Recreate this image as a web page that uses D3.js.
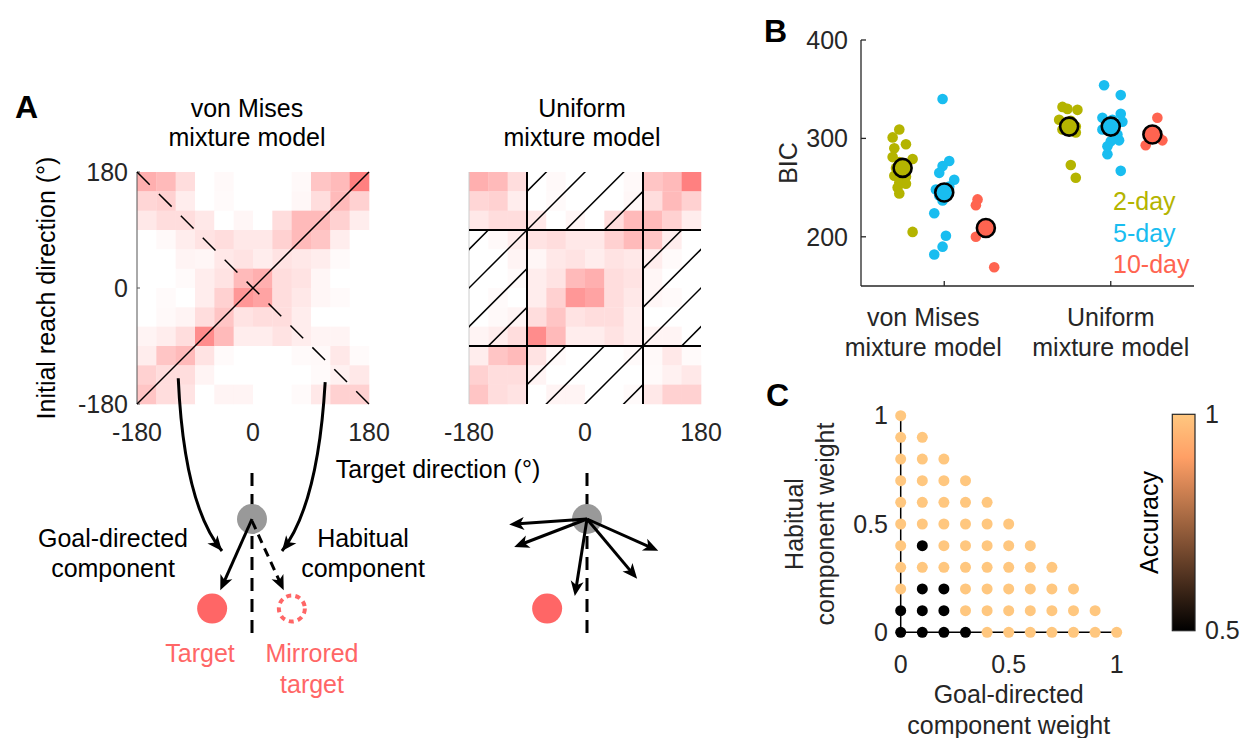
<!DOCTYPE html>
<html>
<head>
<meta charset="utf-8">
<script src="https://cdn.jsdelivr.net/npm/d3@7"></script>
<style>
  body { margin: 0; background: #fff; }
  svg { display: block; font-family: "Liberation Sans", Arial, Helvetica, sans-serif; }
</style>
</head>
<body>
<svg id="fig" width="1242" height="738"></svg>
<script>
// ---------------- Panel A data ----------------
const directionTicks = [-180, 0, 180];
const targetBins = [-165, -135, -105, -75, -45, -15, 15, 45, 75, 105, 135, 165];
const reachBins = [165, 135, 105, 75, 45, 15, -15, -45, -75, -105, -135, -165];
// proportion of reaches in each (reach, target) bin; rows follow reachBins, columns targetBins
const reachDensity = [
  [0.52, 0.45, 0.22, 0.00, 0.04, 0.00, 0.00, 0.00, 0.04, 0.38, 0.45, 0.83],
  [0.27, 0.30, 0.12, 0.00, 0.03, 0.00, 0.00, 0.00, 0.05, 0.22, 0.45, 0.30],
  [0.15, 0.22, 0.22, 0.15, 0.00, 0.06, 0.00, 0.22, 0.45, 0.45, 0.30, 0.12],
  [0.00, 0.04, 0.12, 0.18, 0.22, 0.15, 0.15, 0.30, 0.45, 0.38, 0.12, 0.00],
  [0.00, 0.00, 0.07, 0.06, 0.15, 0.18, 0.12, 0.18, 0.15, 0.12, 0.03, 0.00],
  [0.00, 0.00, 0.03, 0.12, 0.18, 0.45, 0.52, 0.22, 0.18, 0.06, 0.00, 0.00],
  [0.00, 0.03, 0.00, 0.12, 0.30, 0.68, 0.60, 0.22, 0.15, 0.06, 0.03, 0.00],
  [0.00, 0.04, 0.07, 0.22, 0.38, 0.18, 0.22, 0.22, 0.12, 0.00, 0.00, 0.00],
  [0.07, 0.12, 0.22, 0.75, 0.45, 0.12, 0.12, 0.18, 0.12, 0.07, 0.07, 0.00],
  [0.12, 0.38, 0.45, 0.18, 0.03, 0.00, 0.00, 0.00, 0.03, 0.04, 0.15, 0.03],
  [0.30, 0.22, 0.22, 0.07, 0.00, 0.00, 0.00, 0.00, 0.00, 0.03, 0.09, 0.15],
  [0.38, 0.22, 0.18, 0.00, 0.07, 0.07, 0.00, 0.00, 0.03, 0.15, 0.30, 0.30]
];
// uniform-model support: |target|, |reach| boundaries and hatched (excluded) regions
const uniformBounds = [-90, 90];
const hatchRegions = [ // [xmin, xmax, ymin, ymax]
  [-90, 90, 90, 180], [-180, -90, -90, 90], [90, 180, -90, 90], [-90, 90, -180, -90]
];
const hatchOffsets = [-300, -240, -180, -120, -60, 0, 60, 120, 180, 240, 300];

// schematic reaches (angle from straight down, deg; positive = toward the right)
const targetAngle = -24;
const uniformReachAngles = [-86, -69, -9, 40, 66];

// ---------------- Panel B data ----------------
const modelNames = [["von Mises", "mixture model"], ["Uniform", "mixture model"]];
const groupNames = ["2-day", "5-day", "10-day"];
const groupColors = ["#b4b400", "#19bdf0", "#ff6450"];
const bicTicks = [200, 300, 400];

const bicVonMises2 = [309, 301, 294, 290, 281, 279, 276, 270, 262, 261, 255, 254, 250, 244, 205];
const jitVonMises2 = [-0.02, -0.06, 0.02, -0.05, -0.06, 0.06, -0.02, -0.04, -0.05, 0.02, -0.02, 0.02, -0.03, -0.02, 0.06];
const bicVonMises5 = [340, 277, 272, 265, 258, 251, 248, 242, 237, 224, 201, 190, 182];
const jitVonMises5 = [-0.01, 0.03, -0.01, -0.03, 0.06, 0.03, -0.05, -0.03, -0.01, -0.06, 0.01, -0.01, -0.06];
const bicVonMises10 = [238, 232, 210, 200, 169];
const jitVonMises10 = [-0.05, -0.06, 0.00, -0.06, 0.05];
const bicUniform2 = [332, 330, 329, 319, 318, 312, 309, 306, 273, 260];
const jitUniform2 = [-0.04, -0.01, 0.05, -0.06, 0.01, 0.04, -0.04, 0.04, 0.01, 0.04];
const bicUniform5 = [354, 344, 325, 321, 319, 317, 309, 304, 298, 297, 292, 284, 267];
const jitUniform5 = [-0.04, 0.06, 0.06, -0.05, 0.01, 0.07, -0.05, 0.04, 0.05, 0.00, -0.02, -0.02, 0.06];
const bicUniform10 = [321, 304, 301, 298, 293];
const jitUniform10 = [0.03, 0.00, 0.04, 0.06, -0.04];
const meanVonMises = [270, 245, 209];
const meanUniform = [312, 312, 304];

// ---------------- Panel C data ----------------
const weightTicks = [0, 0.5, 1];
const goalWeights = [0, 0.1, 0.2, 0.3, 0.4, 0.5, 0.6, 0.7, 0.8, 0.9, 1];
const habitualWeights = [0, 0.1, 0.2, 0.3, 0.4, 0.5, 0.6, 0.7, 0.8, 0.9, 1];
// classification accuracy; row i = habitualWeights[i], entries follow goalWeights
const accuracy = [
  [0.5, 0.5, 0.5, 0.5, 1, 1, 1, 1, 1, 1, 1],
  [0.5, 0.5, 0.5, 1, 1, 1, 1, 1, 1, 1],
  [1, 0.5, 0.5, 1, 1, 1, 1, 1, 1],
  [1, 1, 1, 1, 1, 1, 1, 1],
  [1, 0.5, 1, 1, 1, 1, 1],
  [1, 1, 1, 1, 1, 1],
  [1, 1, 1, 1, 1],
  [1, 1, 1, 1],
  [1, 1, 1],
  [1, 1],
  [1]
];
const accuracyTicks = [0.5, 1];

// ---------------- helpers ----------------
const svg = d3.select("#fig");
const FS = 25;
const INK = "#262626";

function label(g, x, y, s, o = {}) {
  const t = g.append("text")
    .attr("x", x).attr("y", y)
    .attr("font-size", o.size || FS)
    .attr("fill", o.fill || "#000")
    .attr("text-anchor", o.anchor || "middle")
    .text(s);
  if (o.weight) t.attr("font-weight", o.weight);
  if (o.rotate) t.attr("transform", `rotate(${o.rotate},${x},${y})`);
  if (o.middle) t.attr("dy", "0.35em");
  return t;
}

function arrowHead(g, x, y, angle) {
  // notched head with its tip at (x, y), pointing along angle (radians)
  g.append("path")
    .attr("d", "M0,0 L-15,-6.5 L-11,0 L-15,6.5 Z")
    .attr("transform", `translate(${x},${y}) rotate(${angle * 180 / Math.PI})`)
    .attr("fill", "#000");
}

function straightArrow(g, x1, y1, x2, y2, dash) {
  const a = Math.atan2(y2 - y1, x2 - x1);
  const back = 9;
  g.append("line")
    .attr("x1", x1).attr("y1", y1)
    .attr("x2", x2 - back * Math.cos(a)).attr("y2", y2 - back * Math.sin(a))
    .attr("stroke", "#000").attr("stroke-width", 3)
    .attr("stroke-dasharray", dash || null);
  arrowHead(g, x2, y2, a);
}

function copper(t) {
  t = Math.max(0, Math.min(1, t));
  return d3.rgb(255 * Math.min(1, 1.25 * t), 255 * 0.7812 * t, 255 * 0.4975 * t).toString();
}

// ================= Panel A =================
const A = svg.append("g");
label(A, 15, 118, "A", { size: 32, weight: "bold", anchor: "start" });

const hmColor = d3.scaleLinear().domain([0, 1]).range(["#ffffff", "#ff6666"]);
const hmY = d3.scaleLinear().domain([-180, 180]).range([404, 172]);
const hmXLeft = d3.scaleLinear().domain([-180, 180]).range([137, 369]);
const hmXRight = d3.scaleLinear().domain([-180, 180]).range([469, 701]);
const binHalf = (targetBins[1] - targetBins[0]) / 2;

function heatmap(g, xs) {
  reachDensity.forEach((row, ri) => {
    row.forEach((v, ci) => {
      const t = targetBins[ci], r = reachBins[ri];
      g.append("rect")
        .attr("x", xs(t - binHalf)).attr("y", hmY(r + binHalf))
        .attr("width", xs(t + binHalf) - xs(t - binHalf) + 0.3)
        .attr("height", hmY(r - binHalf) - hmY(r + binHalf) + 0.3)
        .attr("fill", hmColor(v));
    });
  });
  directionTicks.forEach(d => {
    label(g, xs(d), 441, String(d), { fill: INK });
  });
}

// von Mises heatmap
const hmL = A.append("g");
heatmap(hmL, hmXLeft);
hmL.append("line").attr("x1", hmXLeft(-180)).attr("x2", hmXLeft(-180))
  .attr("y1", hmY(-180)).attr("y2", hmY(180)).attr("stroke", "#555").attr("stroke-width", 1);
directionTicks.forEach(d => {
  hmL.append("line").attr("x1", hmXLeft(-180)).attr("x2", hmXLeft(-180) + 3)
    .attr("y1", hmY(d)).attr("y2", hmY(d)).attr("stroke", "#555");
  label(hmL, 128, hmY(d), String(d), { anchor: "end", middle: true, fill: INK });
});
hmL.append("line")
  .attr("x1", hmXLeft(-180)).attr("y1", hmY(-180)).attr("x2", hmXLeft(180)).attr("y2", hmY(180))
  .attr("stroke", "#000").attr("stroke-width", 1.5);
hmL.append("line")
  .attr("x1", hmXLeft(-180)).attr("y1", hmY(180)).attr("x2", hmXLeft(180)).attr("y2", hmY(-180))
  .attr("stroke", "#000").attr("stroke-width", 1.5).attr("stroke-dasharray", "18,13");

// uniform heatmap
const hmR = A.append("g");
heatmap(hmR, hmXRight);
hmR.append("line").attr("x1", hmXRight(-180)).attr("x2", hmXRight(-180))
  .attr("y1", hmY(-180)).attr("y2", hmY(180)).attr("stroke", "#ccc").attr("stroke-width", 1);
hatchRegions.forEach((reg, i) => {
  const id = "hatch" + i;
  hmR.append("clipPath").attr("id", id).append("rect")
    .attr("x", hmXRight(reg[0])).attr("y", hmY(reg[3]))
    .attr("width", hmXRight(reg[1]) - hmXRight(reg[0]))
    .attr("height", hmY(reg[2]) - hmY(reg[3]));
  const hg = hmR.append("g").attr("clip-path", `url(#${id})`);
  hatchOffsets.forEach(c => {
    hg.append("line")
      .attr("x1", hmXRight(-360)).attr("y1", hmY(-360 + c))
      .attr("x2", hmXRight(360)).attr("y2", hmY(360 + c))
      .attr("stroke", "#000").attr("stroke-width", 1.5);
  });
});
uniformBounds.forEach(b => {
  hmR.append("line").attr("x1", hmXRight(b)).attr("x2", hmXRight(b))
    .attr("y1", hmY(-180)).attr("y2", hmY(180)).attr("stroke", "#000").attr("stroke-width", 2);
  hmR.append("line").attr("x1", hmXRight(-180)).attr("x2", hmXRight(180))
    .attr("y1", hmY(b)).attr("y2", hmY(b)).attr("stroke", "#000").attr("stroke-width", 2);
});

// titles and axis labels
label(A, 247, 117, "von Mises");
label(A, 247, 146, "mixture model");
label(A, 582, 117, "Uniform");
label(A, 582, 146, "mixture model");
label(A, 55, 288, "Initial reach direction (°)", { rotate: -90 });
label(A, 438, 478, "Target direction (°)");

// ---- schematic: mixture of goal-directed and habitual components ----
const reachLen = 78, targetDist = 98;
const toRad = d => d * Math.PI / 180;
function polar(cx, cy, angDeg, len) {
  return [cx + len * Math.sin(toRad(angDeg)), cy + len * Math.cos(toRad(angDeg))];
}
const sch = A.append("g");
const startL = [252, 519], startR = [587, 519];

[startL, startR].forEach(s => {
  sch.append("line").attr("x1", s[0]).attr("x2", s[0]).attr("y1", 473).attr("y2", 633)
    .attr("stroke", "#000").attr("stroke-width", 3).attr("stroke-dasharray", "13,8");
  sch.append("circle").attr("cx", s[0]).attr("cy", s[1]).attr("r", 15).attr("fill", "#999");
});

// targets
const tL = polar(startL[0], startL[1], targetAngle, targetDist);
const mL = polar(startL[0], startL[1], -targetAngle, targetDist);
const tR = polar(startR[0], startR[1], targetAngle, targetDist);
sch.append("circle").attr("cx", tL[0]).attr("cy", tL[1]).attr("r", 15).attr("fill", "#ff6666");
sch.append("circle").attr("cx", mL[0]).attr("cy", mL[1]).attr("r", 13)
  .attr("fill", "none").attr("stroke", "#ff6666").attr("stroke-width", 4).attr("stroke-dasharray", "5,4.2");
sch.append("circle").attr("cx", tR[0]).attr("cy", tR[1]).attr("r", 15).attr("fill", "#ff6666");

// goal-directed and habitual reach vectors
const gEnd = polar(startL[0], startL[1], targetAngle, reachLen);
const hEnd = polar(startL[0], startL[1], -targetAngle, reachLen);
straightArrow(sch, startL[0], startL[1], gEnd[0], gEnd[1]);
straightArrow(sch, startL[0], startL[1] + 2, hEnd[0], hEnd[1], "9,6");

// uniformly scattered reaches
uniformReachAngles.forEach(a => {
  const e = polar(startR[0], startR[1], a, reachLen);
  straightArrow(sch, startR[0], startR[1], e[0], e[1]);
});

// curved pointers from the heatmap diagonals to the components
function curvedArrow(g, p0, pc, p1) {
  g.append("path")
    .attr("d", `M${p0[0]},${p0[1]} Q${pc[0]},${pc[1]} ${p1[0]},${p1[1]}`)
    .attr("fill", "none").attr("stroke", "#000").attr("stroke-width", 3);
  arrowHead(g, p1[0], p1[1], Math.atan2(p1[1] - pc[1], p1[0] - pc[0]));
}
curvedArrow(sch, [hmXLeft(-116), hmY(-140)], [184, 505], [222, 551]);
curvedArrow(sch, [hmXLeft(112), hmY(-146)], [318, 505], [282, 551]);

label(sch, 113, 547, "Goal-directed");
label(sch, 113, 577, "component");
label(sch, 363, 547, "Habitual");
label(sch, 363, 577, "component");
label(sch, 200, 662, "Target", { fill: "#ff6666" });
label(sch, 312, 662, "Mirrored", { fill: "#ff6666" });
label(sch, 312, 693, "target", { fill: "#ff6666" });

// ================= Panel B =================
const B = svg.append("g");
label(B, 764, 42, "B", { size: 32, weight: "bold", anchor: "start" });
const bx = d3.scaleLinear().domain([0.5, 2.5]).range([861, 1194]);
const by = d3.scaleLinear().domain([150, 400]).range([286, 40]);
const groupOffset = [-0.25, 0, 0.25];
const modelLabelShift = [-21, 0];

B.append("line").attr("x1", bx(0.5)).attr("x2", bx(0.5)).attr("y1", by(150)).attr("y2", by(400))
  .attr("stroke", INK).attr("stroke-width", 1.3);
B.append("line").attr("x1", bx(0.5)).attr("x2", bx(2.5)).attr("y1", by(150)).attr("y2", by(150))
  .attr("stroke", INK).attr("stroke-width", 1.3);
bicTicks.forEach(t => {
  B.append("line").attr("x1", bx(0.5)).attr("x2", bx(0.5) + 5).attr("y1", by(t)).attr("y2", by(t))
    .attr("stroke", INK).attr("stroke-width", 1.3);
  label(B, 848, by(t), String(t), { anchor: "end", middle: true, fill: INK });
});
modelNames.forEach((m, i) => {
  B.append("line").attr("x1", bx(i + 1)).attr("x2", bx(i + 1)).attr("y1", by(150)).attr("y2", by(150) - 5)
    .attr("stroke", INK).attr("stroke-width", 1.3);
  label(B, bx(i + 1) + modelLabelShift[i], 326, m[0], { fill: INK });
  label(B, bx(i + 1) + modelLabelShift[i], 356, m[1], { fill: INK });
});
label(B, 788, by(275), "BIC", { rotate: -90, middle: true, fill: INK });

const bicSets = [
  [bicVonMises2, jitVonMises2, 1, 0], [bicVonMises5, jitVonMises5, 1, 1], [bicVonMises10, jitVonMises10, 1, 2],
  [bicUniform2, jitUniform2, 2, 0], [bicUniform5, jitUniform5, 2, 1], [bicUniform10, jitUniform10, 2, 2]
];
bicSets.forEach(([vals, jit, cat, gi]) => {
  B.selectAll(null).data(vals).enter().append("circle")
    .attr("cx", (d, i) => bx(cat + groupOffset[gi] + jit[i]))
    .attr("cy", d => by(d))
    .attr("r", 5.3)
    .attr("fill", groupColors[gi]);
});
[meanVonMises, meanUniform].forEach((means, ci) => {
  means.forEach((m, gi) => {
    B.append("circle")
      .attr("cx", bx(ci + 1 + groupOffset[gi])).attr("cy", by(m)).attr("r", 9)
      .attr("fill", groupColors[gi]).attr("stroke", "#000").attr("stroke-width", 2.6);
  });
});
groupNames.forEach((n, i) => {
  label(B, 1113, 210 + i * 31.5, n, { anchor: "start", fill: groupColors[i] });
});

// ================= Panel C =================
const C = svg.append("g");
label(C, 766, 406, "C", { size: 32, weight: "bold", anchor: "start" });
const cx = d3.scaleLinear().domain([0, 1]).range([900.7, 1116.7]);
const cy = d3.scaleLinear().domain([0, 1]).range([632.3, 415.7]);

C.append("line").attr("x1", cx(0)).attr("x2", cx(0)).attr("y1", cy(0)).attr("y2", cy(1))
  .attr("stroke", "#000").attr("stroke-width", 1.5);
C.append("line").attr("x1", cx(0)).attr("x2", cx(1)).attr("y1", cy(0)).attr("y2", cy(0))
  .attr("stroke", "#000").attr("stroke-width", 1.5);
weightTicks.forEach(t => {
  label(C, 888, cy(t), String(t), { anchor: "end", middle: true, fill: INK });
  label(C, cx(t), 673, String(t), { fill: INK });
});
label(C, cx(0.5), 703, "Goal-directed", { fill: INK });
label(C, cx(0.5), 734, "component weight", { fill: INK });
label(C, 803, cy(0.5), "Habitual", { rotate: -90, fill: INK });
label(C, 834, cy(0.5), "component weight", { rotate: -90, fill: INK });

const accT = d3.scaleLinear().domain(accuracyTicks).range([0, 1]);
accuracy.forEach((row, hi) => {
  row.forEach((a, gi) => {
    C.append("circle")
      .attr("cx", cx(goalWeights[gi])).attr("cy", cy(habitualWeights[hi])).attr("r", 5.5)
      .attr("fill", copper(accT(a)));
  });
});

// colorbar
const cbY = d3.scaleLinear().domain(accuracyTicks).range([630.7, 414.3]);
const grad = svg.append("defs").append("linearGradient").attr("id", "copperGrad")
  .attr("x1", 0).attr("x2", 0).attr("y1", 1).attr("y2", 0);
d3.range(0, 1.0001, 0.05).forEach(t => {
  grad.append("stop").attr("offset", t).attr("stop-color", copper(t));
});
C.append("rect").attr("x", 1172.3).attr("y", cbY(1)).attr("width", 22.7)
  .attr("height", cbY(0.5) - cbY(1)).attr("fill", "url(#copperGrad)")
  .attr("stroke", INK).attr("stroke-width", 1.2);
accuracyTicks.forEach(t => {
  label(C, 1205, cbY(t), String(t), { anchor: "start", middle: true, fill: INK });
});
label(C, 1158, cbY(0.75), "Accuracy", { rotate: -90, fill: "#000" });
</script>
</body>
</html>
